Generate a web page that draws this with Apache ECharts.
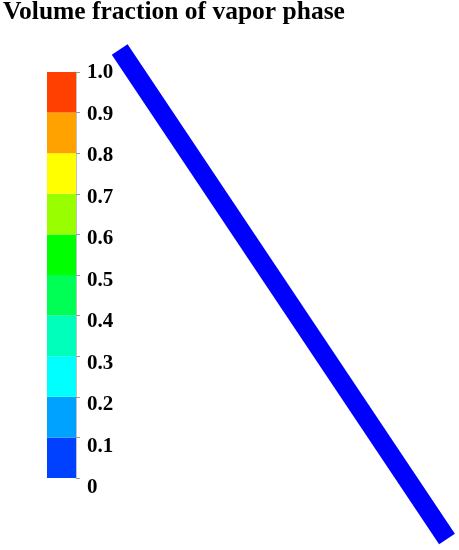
<!DOCTYPE html>
<html>
<head>
<meta charset="utf-8" />
<style>
  html, body { margin: 0; padding: 0; background: #fff; }
  #main { width: 459px; height: 550px; }
</style>
</head>
<body>
<div id="main"></div>
<script src="https://cdn.jsdelivr.net/npm/echarts@6/dist/echarts.min.js"></script>
<script>
// colour bands of the legend bar, bottom (0) to top (1.0)
var bandSteps = [0.1, 0.1, 0.1, 0.1, 0.1, 0.1, 0.1, 0.1, 0.1, 0.1];
var bandColors = ['#0040ff', '#00a2ff', '#00ffff', '#00ffbb', '#00ff55',
                  '#00ff00', '#99ff00', '#ffff00', '#ffa200', '#ff4000'];
var tickLabels = ['0', '0.1', '0.2', '0.3', '0.4', '0.5', '0.6', '0.7', '0.8', '0.9', '1.0'];

// the pipe (all vapor fraction 0 -> blue)
var pipeX = [0, 1];
var pipeY = [1, 0];

var chart = echarts.init(document.getElementById('main'));

var serif = '"Liberation Serif", "DejaVu Serif", serif';

var barSeries = bandSteps.map(function (v, i) {
  return {
    type: 'bar',
    stack: 'bar',
    xAxisIndex: 0,
    yAxisIndex: 0,
    barWidth: '100%',
    data: [v],
    itemStyle: { color: bandColors[i] },
    silent: true
  };
});

var option = {
  animation: false,
  backgroundColor: '#fff',
  title: {
    text: 'Volume fraction of vapor phase',
    left: 3,
    top: -1,
    padding: 0,
    textStyle: { fontFamily: serif, fontWeight: 'bold', fontSize: 25.5, color: '#000' }
  },
  grid: [
    { left: 47, width: 29, top: 72, height: 406 },
    { left: 119.7, right: 12, top: 49.5, bottom: 11 },
    // labels sit a bit lower than the ticks in the original, drifting downward
    { left: 47, width: 29, top: 73, height: 415 }
  ],
  xAxis: [
    { gridIndex: 0, type: 'category', data: ['bar'], show: false },
    { gridIndex: 1, type: 'value', min: 0, max: 1, show: false },
    { gridIndex: 2, type: 'value', min: 0, max: 1, show: false }
  ],
  yAxis: [
    {
      gridIndex: 0,
      type: 'value',
      position: 'right',
      min: 0,
      max: 1,
      interval: 0.1,
      axisLine: { show: true, lineStyle: { color: '#c0c0c0', width: 1 } },
      axisTick: { show: true, length: 4, lineStyle: { color: '#999' } },
      splitLine: { show: false },
      axisLabel: { show: false }
    },
    { gridIndex: 1, type: 'value', min: 0, max: 1, show: false },
    {
      gridIndex: 2,
      type: 'value',
      position: 'right',
      min: 0,
      max: 1,
      interval: 0.1,
      axisLine: { show: false },
      axisTick: { show: false },
      splitLine: { show: false },
      axisLabel: {
        margin: 11,
        fontFamily: serif,
        fontWeight: 'bold',
        fontSize: 21,
        color: '#000',
        formatter: function (v) { return tickLabels[Math.round(v * 10)]; }
      }
    }
  ],
  series: barSeries.concat([
    {
      type: 'line',
      xAxisIndex: 1,
      yAxisIndex: 1,
      data: pipeX.map(function (x, i) { return [x, pipeY[i]]; }),
      symbol: 'none',
      lineStyle: { color: '#0000ff', width: 19, cap: 'butt' },
      silent: true
    },
    {
      type: 'line',
      xAxisIndex: 2,
      yAxisIndex: 2,
      data: [],
      silent: true
    }
  ])
};

chart.setOption(option);
</script>
</body>
</html>
